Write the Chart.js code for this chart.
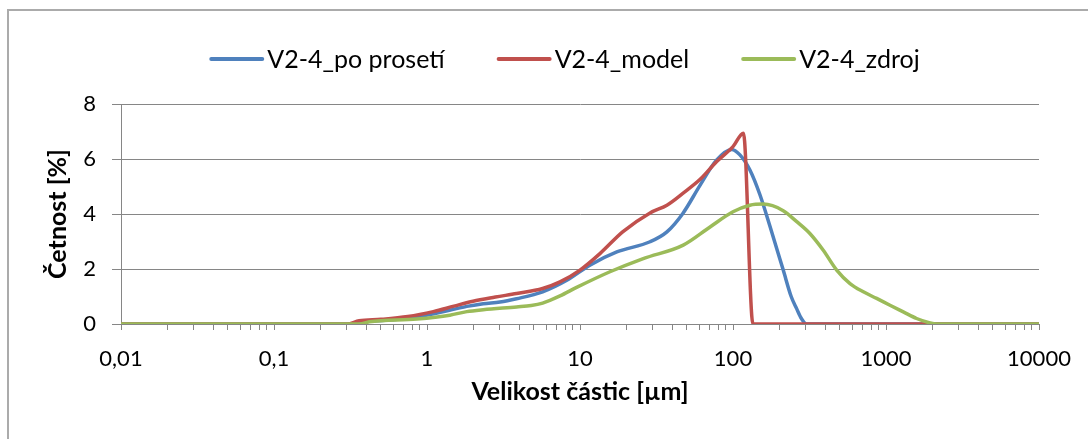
<!DOCTYPE html>
<html>
<head>
<meta charset="utf-8">
<title>Velikost částic</title>
<script src="https://cdn.jsdelivr.net/npm/chart.js@4.4.1/dist/chart.umd.min.js"></script>
<style>
  html, body { margin: 0; padding: 0; background: #fff; }
  #wrap { position: relative; width: 1088px; height: 439px; overflow: hidden; }
  #frame { position: absolute; left: 7px; top: 9px; width: 1200px; height: 600px;
           border: 2px solid #ababab; box-sizing: border-box; }
  #c { position: absolute; left: 0; top: 0; }
</style>
</head>
<body>
<div id="wrap">
  <div id="frame"></div>
  <canvas id="c" width="1088" height="439"></canvas>
</div>
<script>
// Particle size distributions (size in µm, frequency in %)
const seriesNames = ['V2-4_po prosetí', 'V2-4_model', 'V2-4_zdroj'];

const sievedSize = [0.01, 0.35, 0.4, 0.6, 0.86, 1.4, 1.82, 2.33, 3.0, 3.85, 5.7, 8.2, 11.6, 17.4, 28.7, 37, 47, 61, 78, 98, 111, 129, 150, 175, 213, 240, 261, 280, 303, 10000];
const sievedFreq = [0, 0, 0.08, 0.15, 0.26, 0.5, 0.64, 0.74, 0.8, 0.92, 1.17, 1.59, 2.14, 2.62, 2.99, 3.35, 4.02, 5.05, 5.96, 6.35, 6.15, 5.6, 4.7, 3.53, 1.96, 1.0, 0.55, 0.2, 0, 0];

const modelSize = [0.01, 0.3, 0.36, 0.5, 0.75, 1.1, 1.5, 2.0, 2.8, 3.85, 5.7, 7.4, 10, 13.5, 19, 28.7, 37, 47, 61, 78, 100, 117, 135, 200, 1000, 10000];
const modelFreq = [0, 0, 0.12, 0.17, 0.27, 0.45, 0.65, 0.83, 0.98, 1.11, 1.29, 1.53, 1.96, 2.56, 3.35, 4.04, 4.32, 4.75, 5.26, 5.9, 6.45, 6.94, 0, 0, 0, 0];

const sourceSize = [0.01, 0.36, 0.42, 0.86, 1.41, 1.82, 2.33, 3.85, 4.8, 5.7, 7.4, 9.5, 15.7, 25.9, 47.3, 70.8, 100, 129, 158, 213, 261, 318, 389, 476, 582, 711, 869, 1062, 1297, 1585, 1940, 2140, 10000];
const sourceFreq = [0, 0, 0.08, 0.18, 0.32, 0.45, 0.52, 0.62, 0.67, 0.76, 1.02, 1.33, 1.9, 2.38, 2.87, 3.53, 4.08, 4.32, 4.36, 4.12, 3.72, 3.29, 2.68, 1.96, 1.47, 1.17, 0.93, 0.68, 0.44, 0.2, 0.04, 0, 0];

const seriesColors = ['#4F81BD', '#C0504D', '#9BBB59'];

// Tick labels on the size axis (one per decade)
const decadeValues = [0.01, 0.1, 1, 10, 100, 1000, 10000];
const decadeLabels = ['0,01', '0,1', '1', '10', '100', '1000', '10000'];

const FONT = 'Lato, "Open Sans", sans-serif';

function points(xs, ys) { return xs.map((x, i) => ({ x: x, y: ys[i] })); }

// Minor + major tick positions 1..9 × 10^k on the log axis
function logTicks() {
  const out = [];
  for (let e = -2; e <= 3; e++) {
    for (let m = 1; m <= 9; m++) out.push({ value: Number((m * Math.pow(10, e)).toPrecision(6)) });
  }
  out.push({ value: 10000 });
  return out;
}

// Line-sample legend drawn above the plot
const lineKey = {
  id: 'lineKey',
  afterDraw(chart, args, opts) {
    const ctx = chart.ctx;
    ctx.save();
    ctx.font = opts.size + 'px ' + FONT;
    ctx.textBaseline = 'middle';
    const items = chart.data.datasets.map(ds => ({
      label: ds.label, color: ds.borderColor, w: ctx.measureText(ds.label).width
    }));
    const total = items.reduce((s, it) => s + opts.lineLen + opts.gap + it.w, 0) + opts.spacing * (items.length - 1);
    let x = opts.centerX - total / 2;
    items.forEach(it => {
      ctx.strokeStyle = it.color;
      ctx.lineWidth = 4;
      ctx.lineCap = 'round';
      ctx.beginPath();
      ctx.moveTo(x + 1, opts.y);
      ctx.lineTo(x + opts.lineLen - 1, opts.y);
      ctx.stroke();
      x += opts.lineLen + opts.gap;
      ctx.fillStyle = '#000';
      ctx.fillText(it.label, x, opts.y + 1);
      x += it.w + opts.spacing;
    });
    ctx.restore();
  }
};

const datasets = [
  { label: seriesNames[0], data: points(sievedSize, sievedFreq), borderColor: seriesColors[0], order: 2 },
  { label: seriesNames[1], data: points(modelSize, modelFreq), borderColor: seriesColors[1], order: 1 },
  { label: seriesNames[2], data: points(sourceSize, sourceFreq), borderColor: seriesColors[2], order: 0 }
].map(d => Object.assign(d, {
  backgroundColor: d.borderColor,
  borderWidth: 3.5,
  pointRadius: 0,
  fill: false,
  cubicInterpolationMode: 'monotone',
  borderCapStyle: 'round',
  borderJoinStyle: 'round'
}));

new Chart(document.getElementById('c'), {
  type: 'line',
  data: { datasets: datasets },
  plugins: [lineKey],
  options: {
    responsive: false,
    animation: false,
    devicePixelRatio: 1,
    layout: { padding: { top: 104, right: 49, bottom: 0, left: 0 } },
    plugins: {
      legend: { display: false },
      tooltip: { enabled: false },
      lineKey: { size: 25, centerX: 565, y: 59, lineLen: 53, gap: 4, spacing: 53 }
    },
    scales: {
      x: {
        type: 'logarithmic',
        position: 'bottom',
        min: 0.01,
        max: 10000,
        afterBuildTicks: s => { s.ticks = logTicks(); },
        afterFit: s => { s.height = 115; },
        ticks: {
          autoSkip: false,
          maxRotation: 0,
          minRotation: 0,
          padding: 16,
          color: '#000',
          font: { family: FONT, size: 22 },
          callback: v => {
            const i = decadeValues.findIndex(d => Math.abs(d - v) < d * 1e-6);
            return i >= 0 ? decadeLabels[i] : '';
          }
        },
        grid: { drawOnChartArea: false, drawTicks: true, tickLength: 6, color: '#868686', lineWidth: 1 },
        border: { display: true, color: '#868686', width: 1 },
        title: {
          display: true,
          text: 'Velikost částic [µm]',
          color: '#000',
          font: { family: FONT, size: 25, weight: 'bold' },
          padding: { top: 0, bottom: 32 }
        }
      },
      y: {
        min: 0,
        max: 8,
        afterFit: s => { s.width = 121; },
        ticks: {
          stepSize: 2,
          padding: 16,
          color: '#000',
          font: { family: FONT, size: 22 }
        },
        grid: { color: '#868686', lineWidth: 1, tickLength: 9 },
        border: { display: true, color: '#868686', width: 1 },
        title: {
          display: true,
          text: 'Četnost [%]',
          color: '#000',
          font: { family: FONT, size: 25, weight: 'bold' },
          padding: { top: 43, bottom: 0 }
        }
      }
    }
  }
});
</script>
</body>
</html>
